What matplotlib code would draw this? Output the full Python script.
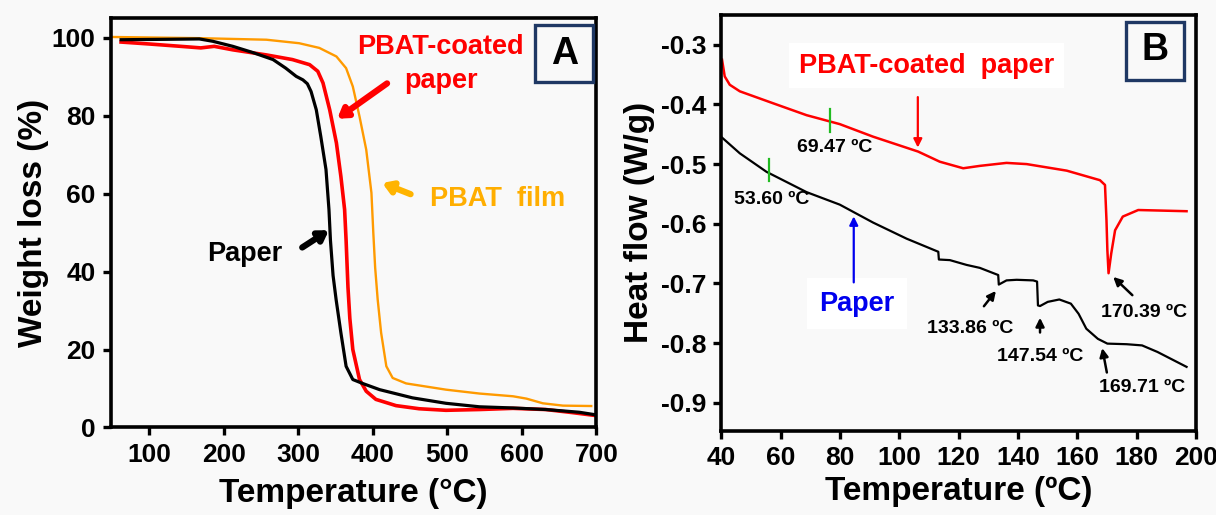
import matplotlib
matplotlib.use("Agg")
import matplotlib.pyplot as plt
from matplotlib.patches import Rectangle

# ---------------- data: panel A (TGA) ----------------
paper_T = [62, 120, 167, 185, 212, 239, 266, 283, 297, 306, 312, 317, 324, 330, 337, 341, 343, 346.5, 350.6,
           357, 364, 373, 386, 409, 453, 498, 543, 588, 632, 677, 697]
paper_W = [99.5, 99.6, 99.7, 99.1, 97.8, 96.2, 94.4, 92.2, 90.1, 89.2, 88.2, 86.2, 81.5, 74.7, 66.2, 55.9, 48.0, 39.0, 32.8,
           24.3, 15.7, 12.3, 11.3, 9.7, 7.6, 6.2, 5.3, 5.0, 4.6, 3.9, 3.3]

coated_T = [62, 100, 142, 169, 187, 212, 257, 292, 315, 326, 333, 342, 351, 357, 362, 364, 366.5, 369, 373,
            382, 391, 404, 431, 462, 498, 543, 588, 632, 668, 697]
coated_W = [98.9, 98.4, 97.8, 97.4, 97.8, 96.9, 95.6, 94.4, 93.1, 91.4, 88.4, 81.5, 73.0, 64.4, 55.9, 48.0, 36.0, 28.0, 20.0,
            12.3, 9.3, 7.2, 5.6, 4.8, 4.4, 4.6, 4.9, 4.6, 3.8, 3.1]

film_T = [51, 167, 257, 301, 328, 351, 364, 373, 382, 391, 398, 400.5, 403, 406.4, 411, 418, 426.5, 444.5, 498, 543,
          588, 606, 628, 655, 693]
film_W = [100.2, 99.9, 99.5, 98.6, 97.4, 95.2, 92.2, 87.5, 79.8, 71.3, 60.2, 50.0, 41.0, 32.8, 24.3, 15.7, 12.7, 11.3, 9.7, 8.7,
          8.0, 7.4, 6.2, 5.6, 5.5]

# ---------------- data: panel B (DSC) ----------------
dsc_coated_T = [40.2, 41.1, 42.8, 46.2, 57.4, 68.7, 79.9, 91.1, 106.3, 113.6, 121.5, 127.1, 136.1, 142.9, 156.4,
                167.6, 169.3, 169.8, 170.1, 170.5, 171.4, 172.7, 175.3, 180.5, 196.8]
dsc_coated_H = [-0.325, -0.353, -0.367, -0.378, -0.398, -0.418, -0.433, -0.454, -0.479, -0.496, -0.507, -0.503, -0.498,
                -0.500, -0.511, -0.527, -0.535, -0.594, -0.644, -0.683, -0.650, -0.611, -0.588, -0.577, -0.579]

dsc_paper_T = [40.3, 46.2, 55.2, 68.7, 79.9, 91.1, 102.4, 113.1, 113.3, 117, 122.6, 127.1, 133.3, 133.5, 136.1, 139.5,
               145.1, 146.4, 146.7, 147.4, 150, 153.9, 157.8, 160.4, 163, 166.9, 170.1, 176.6, 181.8, 187, 196.8]
dsc_paper_H = [-0.456, -0.482, -0.513, -0.547, -0.568, -0.598, -0.625, -0.647, -0.660, -0.661, -0.669, -0.674, -0.686,
               -0.702, -0.695, -0.694, -0.695, -0.697, -0.737, -0.738, -0.731, -0.727, -0.734, -0.751, -0.776, -0.793,
               -0.801, -0.802, -0.804, -0.815, -0.840]

tg_labels = ["69.47 ºC", "53.60 ºC"]
tg_T = [76.5, 55.9]
peak_labels = ["133.86 ºC", "147.54 ºC", "169.71 ºC", "170.39 ºC"]

plt.rcParams['font.family'] = ['Liberation Sans', 'DejaVu Sans']
plt.rcParams['font.weight'] = 'bold'

BG = '#f9f9f9'
fig = plt.figure(figsize=(12.16, 5.15), dpi=100, facecolor=BG)
axA = fig.add_axes([0.0910, 0.170, 0.3995, 0.7945])
axB = fig.add_axes([0.5933, 0.1637, 0.3903, 0.8072])

for ax in (axA, axB):
    ax.set_facecolor(BG)
    for s in ax.spines.values():
        s.set_linewidth(2.6)
    ax.tick_params(direction='out', length=6, width=2.4, labelsize=19, pad=5)

# ---------------- panel A ----------------
axA.plot(film_T, film_W, color='#ff9a00', lw=1.7)
axA.plot(coated_T, coated_W, color='#ff0000', lw=2.6)
axA.plot(paper_T, paper_W, color='#000000', lw=2.3)
axA.set_xlim(48, 700)
axA.set_ylim(0, 105)
axA.set_xticks([100, 200, 300, 400, 500, 600, 700])
axA.set_yticks([0, 20, 40, 60, 80, 100])
axA.set_xlabel('Temperature (°C)', fontsize=24, fontweight='bold', labelpad=8)
axA.set_ylabel('Weight loss (%)', fontsize=24, fontweight='bold', labelpad=2)

axA.text(491, 97.7, 'PBAT-coated', color='#ff0000', fontsize=19.5, fontweight='bold', ha='center', va='center')
axA.text(491, 88.9, 'paper', color='#ff0000', fontsize=19.5, fontweight='bold', ha='center', va='center')
axA.annotate('', xy=(349, 78.8), xytext=(422, 88.7),
             arrowprops=dict(arrowstyle='-|>,head_length=0.55,head_width=0.35', color='#ff0000', lw=4.5))
axA.text(477, 58.5, 'PBAT  film', color='#ffae00', fontsize=19.5, fontweight='bold', ha='left', va='center')
axA.annotate('', xy=(409, 63), xytext=(454, 59.6),
             arrowprops=dict(arrowstyle='-|>,head_length=0.55,head_width=0.35', color='#ffb400', lw=4.5))
axA.text(228, 44.6, 'Paper', color='black', fontsize=19.5, fontweight='bold', ha='center', va='center')
axA.annotate('', xy=(344, 51), xytext=(302, 45.8),
             arrowprops=dict(arrowstyle='-|>,head_length=0.55,head_width=0.35', color='black', lw=4.5))
axA.add_patch(Rectangle((618, 88.7), 78, 14.6, fill=True, facecolor=BG, edgecolor='#1f3864', lw=2.4, zorder=5))
axA.text(657, 95.8, 'A', fontsize=27, fontweight='bold', ha='center', va='center', zorder=6)

# ---------------- panel B ----------------
axB.plot(dsc_coated_T, dsc_coated_H, color='#ff0000', lw=1.8)
axB.plot(dsc_paper_T, dsc_paper_H, color='black', lw=1.6)
axB.set_xlim(40, 200)
axB.set_ylim(-0.947, -0.25)
axB.set_xticks(list(range(40, 201, 20)))
axB.set_yticks([-0.9, -0.8, -0.7, -0.6, -0.5, -0.4, -0.3])
axB.set_yticklabels(['-0.9', '-0.8', '-0.7', '-0.6', '-0.5', '-0.4', '-0.3'])
axB.set_xlabel('Temperature (ºC)', fontsize=24, fontweight='bold', labelpad=4)
axB.set_ylabel('Heat flow (W/g)', fontsize=24, fontweight='bold', labelpad=4)

# glass transition marks
axB.plot([tg_T[0], tg_T[0]], [-0.408, -0.447], color='#22bb22', lw=1.6)
axB.plot([tg_T[1], tg_T[1]], [-0.492, -0.529], color='#22bb22', lw=1.6)
axB.text(78.2, -0.473, tg_labels[0], fontsize=14, fontweight='bold', ha='center', va='center')
axB.text(57.1, -0.560, tg_labels[1], fontsize=14, fontweight='bold', ha='center', va='center')

axB.text(109.2, -0.335, 'PBAT-coated  paper', color='#ff0000', fontsize=19.5, fontweight='bold', ha='center',
         va='center', bbox=dict(facecolor='white', edgecolor='none', pad=7))
axB.annotate('', xy=(106.2, -0.477), xytext=(106.2, -0.383),
             arrowprops=dict(arrowstyle='-|>,head_length=0.5,head_width=0.25', color='#ff0000', lw=1.6))
axB.text(85.7, -0.734, 'Paper', color='#0000ee', fontsize=19.5, fontweight='bold', ha='center', va='center',
         bbox=dict(facecolor='white', edgecolor='none', pad=9))
axB.annotate('', xy=(84.6, -0.583), xytext=(84.6, -0.703),
             arrowprops=dict(arrowstyle='-|>,head_length=0.5,head_width=0.25', color='#0000ee', lw=1.6))

arr = dict(arrowstyle='-|>,head_length=0.5,head_width=0.25', color='black', lw=1.8)
axB.annotate('', xy=(133.1, -0.709), xytext=(127.9, -0.742), arrowprops=arr)
axB.text(124, -0.776, peak_labels[0], fontsize=14, fontweight='bold', ha='center', va='center')
axB.annotate('', xy=(147.4, -0.753), xytext=(147.4, -0.787), arrowprops=arr)
axB.text(147.4, -0.823, peak_labels[1], fontsize=14, fontweight='bold', ha='center', va='center')
axB.annotate('', xy=(168.2, -0.804), xytext=(170.1, -0.854), arrowprops=arr)
axB.text(181.8, -0.874, peak_labels[2], fontsize=14, fontweight='bold', ha='center', va='center')
axB.annotate('', xy=(171.4, -0.686), xytext=(179.2, -0.723), arrowprops=arr)
axB.text(182.5, -0.748, peak_labels[3], fontsize=14, fontweight='bold', ha='center', va='center')

axB.add_patch(Rectangle((176.5, -0.359), 19.5, 0.098, fill=True, facecolor=BG, edgecolor='#1f3864', lw=2.4, zorder=5))
axB.text(186.2, -0.308, 'B', fontsize=27, fontweight='bold', ha='center', va='center', zorder=6)

fig.savefig('out.png', dpi=100, facecolor=BG)
